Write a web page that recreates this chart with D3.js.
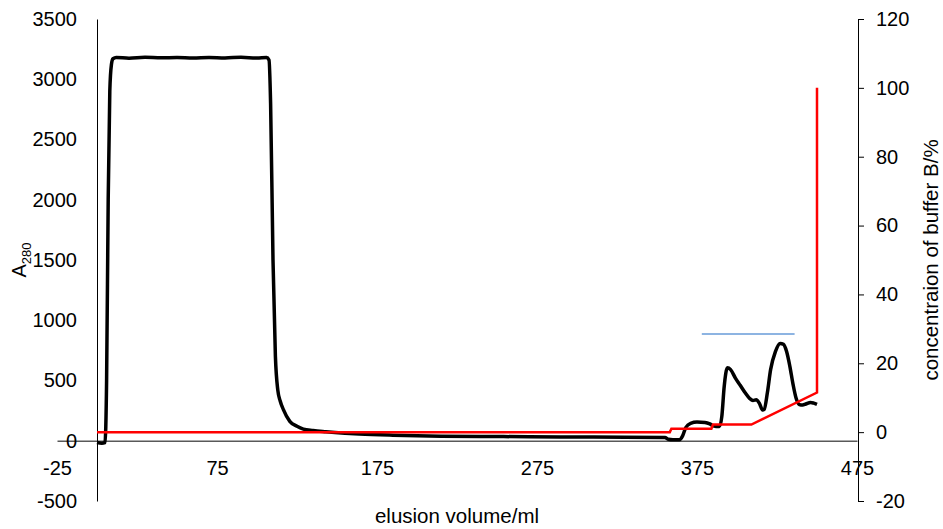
<!DOCTYPE html>
<html>
<head>
<meta charset="utf-8">
<script src="https://cdn.jsdelivr.net/npm/d3@7"></script>
<style>
    body { margin: 0; background: #fff; }
    text { font-family: Arial, "Liberation Sans", sans-serif; fill: #000; }
</style>
</head>
<body>
<div id="chart-container"></div>
<script>
// A280 trace (elution volume in ml, absorbance)
const volume = [0, 3, 5, 6, 7, 8, 9, 10, 12, 20, 30, 40, 50, 60, 70, 80, 90, 100, 106,
    107.5, 108.5, 110, 111.5, 113, 114.5, 116.5, 120.5, 125, 129, 135, 143, 155, 164, 185, 215,
    240, 270, 300, 330, 355, 357, 360, 364, 366, 368, 371, 375, 380, 383, 385, 389,
    390.5, 392, 394, 396, 399, 402, 405, 408, 410, 412, 414, 416, 417, 419, 421, 424,
    427, 429, 431, 433, 435, 437, 439, 441, 443, 446, 448, 450];
const a280 = [-15, -20, -15, 500, 2000, 2900, 3120, 3170, 3180, 3175, 3182, 3178, 3180, 3176, 3181, 3177, 3182, 3176, 3180,
    3160, 2800, 1500, 700, 420, 330, 258, 161, 120, 97, 85, 75, 63, 56, 46, 38,
    36, 33, 31, 29, 27, 12, 8, 8, 40, 110, 145, 155, 152, 140, 125, 118,
    200, 450, 605, 590, 520, 460, 400, 350, 335, 340, 310, 255, 260, 400, 590, 740,
    808, 800, 740, 620, 470, 350, 300, 296, 305, 318, 312, 302];

// gradient of buffer B (%)
const gradVolume = [0, 358, 359, 384, 385, 409, 450, 450];
const bufferB = [0, 0, 1, 1, 2.2, 2.2, 11.5, 100];

// pooled fraction marker
const poolVolume = [378, 436];
const poolLevel = [28.5, 28.5];

const xTicks = [-25, 75, 175, 275, 375, 475];
const yLeftTicks = [-500, 0, 500, 1000, 1500, 2000, 2500, 3000, 3500];
const yRightTicks = [-20, 0, 20, 40, 60, 80, 100, 120];

const width = 943;
const height = 529;
const margin = {top: 19, right: 86, bottom: 28, left: 57};
const plain = d => `${d}`;

const svg = d3.select("#chart-container")
    .append("svg")
    .attr("width", width)
    .attr("height", height);

// Scales
const x = d3.scaleLinear()
    .domain([-25, 475])
    .range([margin.left, width - margin.right]);

const yLeft = d3.scaleLinear()
    .domain([-500, 3500])
    .range([height - margin.bottom, margin.top]);

const yRight = d3.scaleLinear()
    .domain([-20, 120])
    .range([height - margin.bottom, margin.top]);

// X axis sits on A280 = 0, labels pushed down below it
const xAxis = svg.append("g")
    .attr("transform", `translate(0,${yLeft(0)})`)
    .call(d3.axisBottom(x).tickValues(xTicks).tickFormat(plain).tickSize(0).tickPadding(20).tickSizeOuter(0));
xAxis.select(".domain").attr("stroke", "#595959").attr("stroke-width", 1.5);
xAxis.selectAll("text").style("font-size", "20px").attr("fill", "#000");

// Left axis crosses at volume 0
const leftAxis = svg.append("g")
    .attr("transform", `translate(${x(0)},0)`)
    .call(d3.axisLeft(yLeft).tickValues(yLeftTicks).tickFormat(plain).tickSize(0).tickPadding(20).tickSizeOuter(0));
leftAxis.select(".domain").attr("stroke", "#000").attr("stroke-width", 1);
leftAxis.selectAll("text").style("font-size", "20px").attr("fill", "#000");

// Right axis for buffer B
const rightAxis = svg.append("g")
    .attr("transform", `translate(${x(475) + 1},0)`)
    .call(d3.axisRight(yRight).tickValues(yRightTicks).tickFormat(plain).tickSize(6).tickPadding(12).tickSizeOuter(0));
rightAxis.select(".domain").attr("stroke", "#000").attr("stroke-width", 1);
rightAxis.selectAll("line").attr("stroke", "#000");
rightAxis.selectAll("text").style("font-size", "20px").attr("fill", "#000");

// Axis titles
svg.append("text")
    .attr("x", (x(-25) + x(475)) / 2)
    .attr("y", 523)
    .attr("text-anchor", "middle")
    .style("font-size", "20.5px")
    .text("elusion volume/ml");

const leftTitle = svg.append("text")
    .attr("transform", `translate(26,${(margin.top + height - margin.bottom) / 2}) rotate(-90)`)
    .attr("text-anchor", "middle")
    .style("font-size", "20px");
leftTitle.append("tspan").text("A");
leftTitle.append("tspan").attr("dy", 5).style("font-size", "13px").text("280");

svg.append("text")
    .attr("transform", `translate(938,${(margin.top + height - margin.bottom) / 2}) rotate(-90)`)
    .attr("text-anchor", "middle")
    .style("font-size", "20.5px")
    .text("concentraion of buffer B/%");

// Lines
const traceLine = d3.line()
    .x(d => x(d[0]))
    .y(d => yLeft(d[1]))
    .curve(d3.curveMonotoneX);

const gradLine = d3.line()
    .x(d => x(d[0]))
    .y(d => yRight(d[1]));

svg.append("path")
    .datum(poolVolume.map((v, i) => [v, poolLevel[i]]))
    .attr("fill", "none")
    .attr("stroke", "#8db4e2")
    .attr("stroke-width", 2)
    .attr("d", gradLine);

svg.append("path")
    .datum(volume.map((v, i) => [v, a280[i]]))
    .attr("fill", "none")
    .attr("stroke", "#000")
    .attr("stroke-width", 3.5)
    .attr("stroke-linejoin", "round")
    .attr("d", traceLine);

svg.append("path")
    .datum(gradVolume.map((v, i) => [v, bufferB[i]]))
    .attr("fill", "none")
    .attr("stroke", "#ff0000")
    .attr("stroke-width", 2.5)
    .attr("d", gradLine);
</script>
</body>
</html>
